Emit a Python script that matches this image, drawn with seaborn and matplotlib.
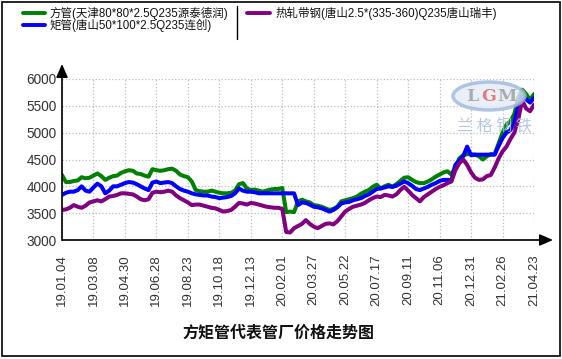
import numpy as np
import pandas as pd
import matplotlib
matplotlib.use("Agg")
import matplotlib.pyplot as plt
import seaborn as sns
from matplotlib.lines import Line2D
from matplotlib.patches import Rectangle, Ellipse

# ---------------- data ----------------
tick_labels = ["19.01.04", "19.03.08", "19.04.30", "19.06.28", "19.08.23", "19.10.18",
               "19.12.13", "20.02.01", "20.03.27", "20.05.22", "20.07.17", "20.09.11",
               "20.11.06", "20.12.31", "21.02.26", "21.04.23"]

series_names = ["方管(天津80*80*2.5Q235源泰德润)",
                "矩管(唐山50*100*2.5Q235连创)",
                "热轧带钢(唐山2.5*(335-360)Q235唐山瑞丰)"]

square_tube = [4210, 4080, 4080, 4100, 4110, 4170, 4150, 4160, 4200, 4240,
               4190, 4120, 4160, 4190, 4200, 4250, 4280, 4300, 4290, 4240,
               4230, 4200, 4180, 4320, 4300, 4290, 4300, 4320, 4330, 4290,
               4220, 4190, 4170, 4090, 3930, 3910, 3900, 3900, 3920, 3900,
               3880, 3870, 3870, 3880, 3920, 4040, 4060, 3960, 3930, 3940,
               3920, 3900, 3920, 3940, 3950, 3950, 3970, 3520, 3530, 3520,
               3720, 3750, 3720, 3700, 3650, 3640, 3620, 3590, 3560, 3580,
               3620, 3720, 3740, 3760, 3780, 3810, 3860, 3900, 3930, 3990,
               4030, 3960, 4000, 4030, 3990, 4040, 4100, 4160, 4170, 4120,
               4080, 4060, 4060, 4090, 4130, 4180, 4220, 4260, 4280, 4220,
               4350, 4520, 4580, 4600, 4600, 4590, 4560, 4500, 4560, 4600,
               4600, 4800, 5000, 5150, 5210, 5350, 5650, 5800, 5720, 5610,
               5720]

rect_tube = [3840, 3880, 3900, 3900, 3930, 4000, 3920, 3900, 3980, 4050,
             4000, 3870, 3920, 4000, 4000, 4030, 4060, 4080, 4070, 4040,
             4000, 3960, 3930, 4070, 4090, 4060, 4070, 4080, 4060, 4000,
             3950, 3920, 3900, 3870, 3850, 3840, 3830, 3830, 3810, 3800,
             3780, 3790, 3800, 3820, 3870, 3960, 3920, 3900, 3900, 3890,
             3870, 3870, 3870, 3870, 3870, 3870, 3870, 3870, 3870, 3870,
             3650, 3700, 3690, 3660, 3620, 3610, 3590, 3560, 3530, 3560,
             3610, 3680, 3700, 3710, 3740, 3760, 3780, 3820, 3850, 3900,
             3950, 3960, 3980, 4000, 3990, 4010, 4050, 4090, 4060, 4010,
             3950, 3930, 3960, 3990, 4030, 4060, 4100, 4120, 4120, 4110,
             4400, 4480, 4560, 4740, 4580, 4590, 4590, 4590, 4590, 4590,
             4590, 4750, 4900, 5000, 5050, 5200, 5500, 5680, 5620, 5560,
             5650]

hot_strip = [3560, 3570, 3600, 3650, 3620, 3600, 3640, 3700, 3720, 3740,
             3720, 3760, 3810, 3820, 3840, 3870, 3870, 3860, 3850, 3810,
             3760, 3740, 3760, 3880, 3900, 3890, 3900, 3920, 3900, 3830,
             3780, 3740, 3700, 3650, 3660, 3660, 3640, 3620, 3600, 3590,
             3560, 3530, 3540, 3560, 3620, 3690, 3680, 3660, 3690, 3680,
             3660, 3640, 3620, 3610, 3600, 3600, 3580, 3150, 3140, 3220,
             3260, 3300, 3370, 3300, 3250, 3220, 3260, 3300, 3310, 3290,
             3350, 3440, 3530, 3580, 3620, 3640, 3660, 3690, 3740, 3780,
             3810, 3800, 3840, 3830, 3810, 3850, 3930, 3990, 3920, 3840,
             3780, 3720, 3800, 3850, 3900, 3950, 3990, 4020, 4060, 4090,
             4300, 4430, 4500, 4400, 4260, 4160, 4120, 4130, 4190, 4210,
             4350, 4520, 4650, 4740, 4880, 5000, 5250, 5600, 5450, 5400,
             5520]

y_ticks = [3000, 3500, 4000, 4500, 5000, 5500, 6000]
title = "方矩管代表管厂价格走势图"

colors = ["#008000", "#0000ff", "#800080"]

# ---------------- build frame ----------------
n = len(square_tube)
week = np.arange(n)
df = pd.concat([
    pd.DataFrame({"week": week, "price": vals, "series": name})
    for name, vals in zip(series_names, [square_tube, rect_tube, hot_strip])
])

sns.set_style("white")
plt.rcParams["font.family"] = ["Liberation Sans", "Noto Sans CJK SC", "DejaVu Sans"]

W, H = 562, 359
fig = plt.figure(figsize=(W / 100, H / 100), dpi=100)

def fx(x):
    return x / W

def fy(y):
    return 1 - y / H

ax_l, ax_r, ax_t, ax_b = 62, 534, 79, 240
ax = fig.add_axes([fx(ax_l), fy(ax_b), (ax_r - ax_l) / W, (ax_b - ax_t) / H])
ax.set_facecolor("none")

# watermark (behind lines)
ell = Ellipse((fx(489), fy(96)), 72 / W, 28 / H, transform=fig.transFigure,
              facecolor="#e4ecf7", edgecolor="#9fb8dc", lw=2.5, alpha=0.8, zorder=0)
fig.patches.append(ell)
for ch, xx, col in [("L", 472, "#9a9a9a"), ("G", 489, "#e06060"), ("M", 507, "#9a9a9a")]:
    fig.text(fx(xx), fy(97), ch, color=col, fontsize=12.5, fontweight="bold",
             ha="center", va="center", family="DejaVu Serif", alpha=0.8)
fig.text(fx(494), fy(127), "兰 格 钢 铁", color="#a9bedb", fontsize=11.5,
         ha="center", va="center", family=["Noto Sans CJK SC"], style="italic", alpha=0.85)

sns.lineplot(data=df, x="week", y="price", hue="series", palette=colors,
             linewidth=2.9, legend=False, ax=ax, zorder=3)

ax.set_xlim(0, n - 1)
ax.set_ylim(3000, 6000)
ax.set_xticks(np.arange(0, n, 8))
ax.set_xticklabels(tick_labels, rotation=90, fontsize=9.5, color="#333333",
                   family=["Liberation Sans"])
ax.set_yticks(y_ticks)
ax.set_yticklabels([str(v) for v in y_ticks], fontsize=9.8, color="#333333",
                   family=["Liberation Sans"])
ax.tick_params(axis="x", direction="out", length=4, width=1, pad=6, color="black")
ax.tick_params(axis="y", direction="out", length=3, width=1, pad=1, color="black")
ax.set_xlabel("")
ax.set_ylabel("")
ax.grid(True, color="#bdbdbd", linestyle=":", linewidth=0.9)
for s in ["top", "right", "left", "bottom"]:
    ax.spines[s].set_visible(False)

# axis lines with arrows
ax.annotate("", xy=(0, (ax_b - 64) / (ax_b - ax_t)), xytext=(0, 0),
            xycoords="axes fraction", textcoords="axes fraction",
            arrowprops=dict(arrowstyle="-|>,head_length=0.8,head_width=0.35",
                            lw=1.2, color="black", shrinkA=0, shrinkB=0),
            annotation_clip=False)
ax.annotate("", xy=((553 - ax_l) / (ax_r - ax_l), 0), xytext=(0, 0),
            xycoords="axes fraction", textcoords="axes fraction",
            arrowprops=dict(arrowstyle="-|>,head_length=0.8,head_width=0.35",
                            lw=1.2, color="black", shrinkA=0, shrinkB=0),
            annotation_clip=False)

# legend (manual layout)
leg_items = [(23, 45, 50, 13), (23, 45, 50, 25), (247, 270, 276, 13)]
for (x0, x1, xt, yy), name, c in zip(leg_items, series_names, colors):
    fig.add_artist(Line2D([fx(x0), fx(x1)], [fy(yy), fy(yy)],
                          transform=fig.transFigure, color=c, lw=2.8))
    fig.text(fx(xt), fy(yy), name, ha="left", va="center", fontsize=8.3,
             family=["Liberation Sans", "Noto Sans CJK SC"], color="#111111")
fig.add_artist(Line2D([fx(237), fx(237)], [fy(6), fy(39)],
                      transform=fig.transFigure, color="black", lw=1))

# title
fig.text(fx(278), fy(333), title, ha="center", va="center", fontsize=11.5,
         fontweight="bold", family=["Noto Sans CJK SC"], color="#111111")

# outer frame
fig.patches.append(Rectangle((fx(1.5), fy(356)), 558 / W, 354.5 / H,
                             transform=fig.transFigure, fill=False,
                             edgecolor="black", lw=1.2))

fig.savefig("out.png", dpi=100)
